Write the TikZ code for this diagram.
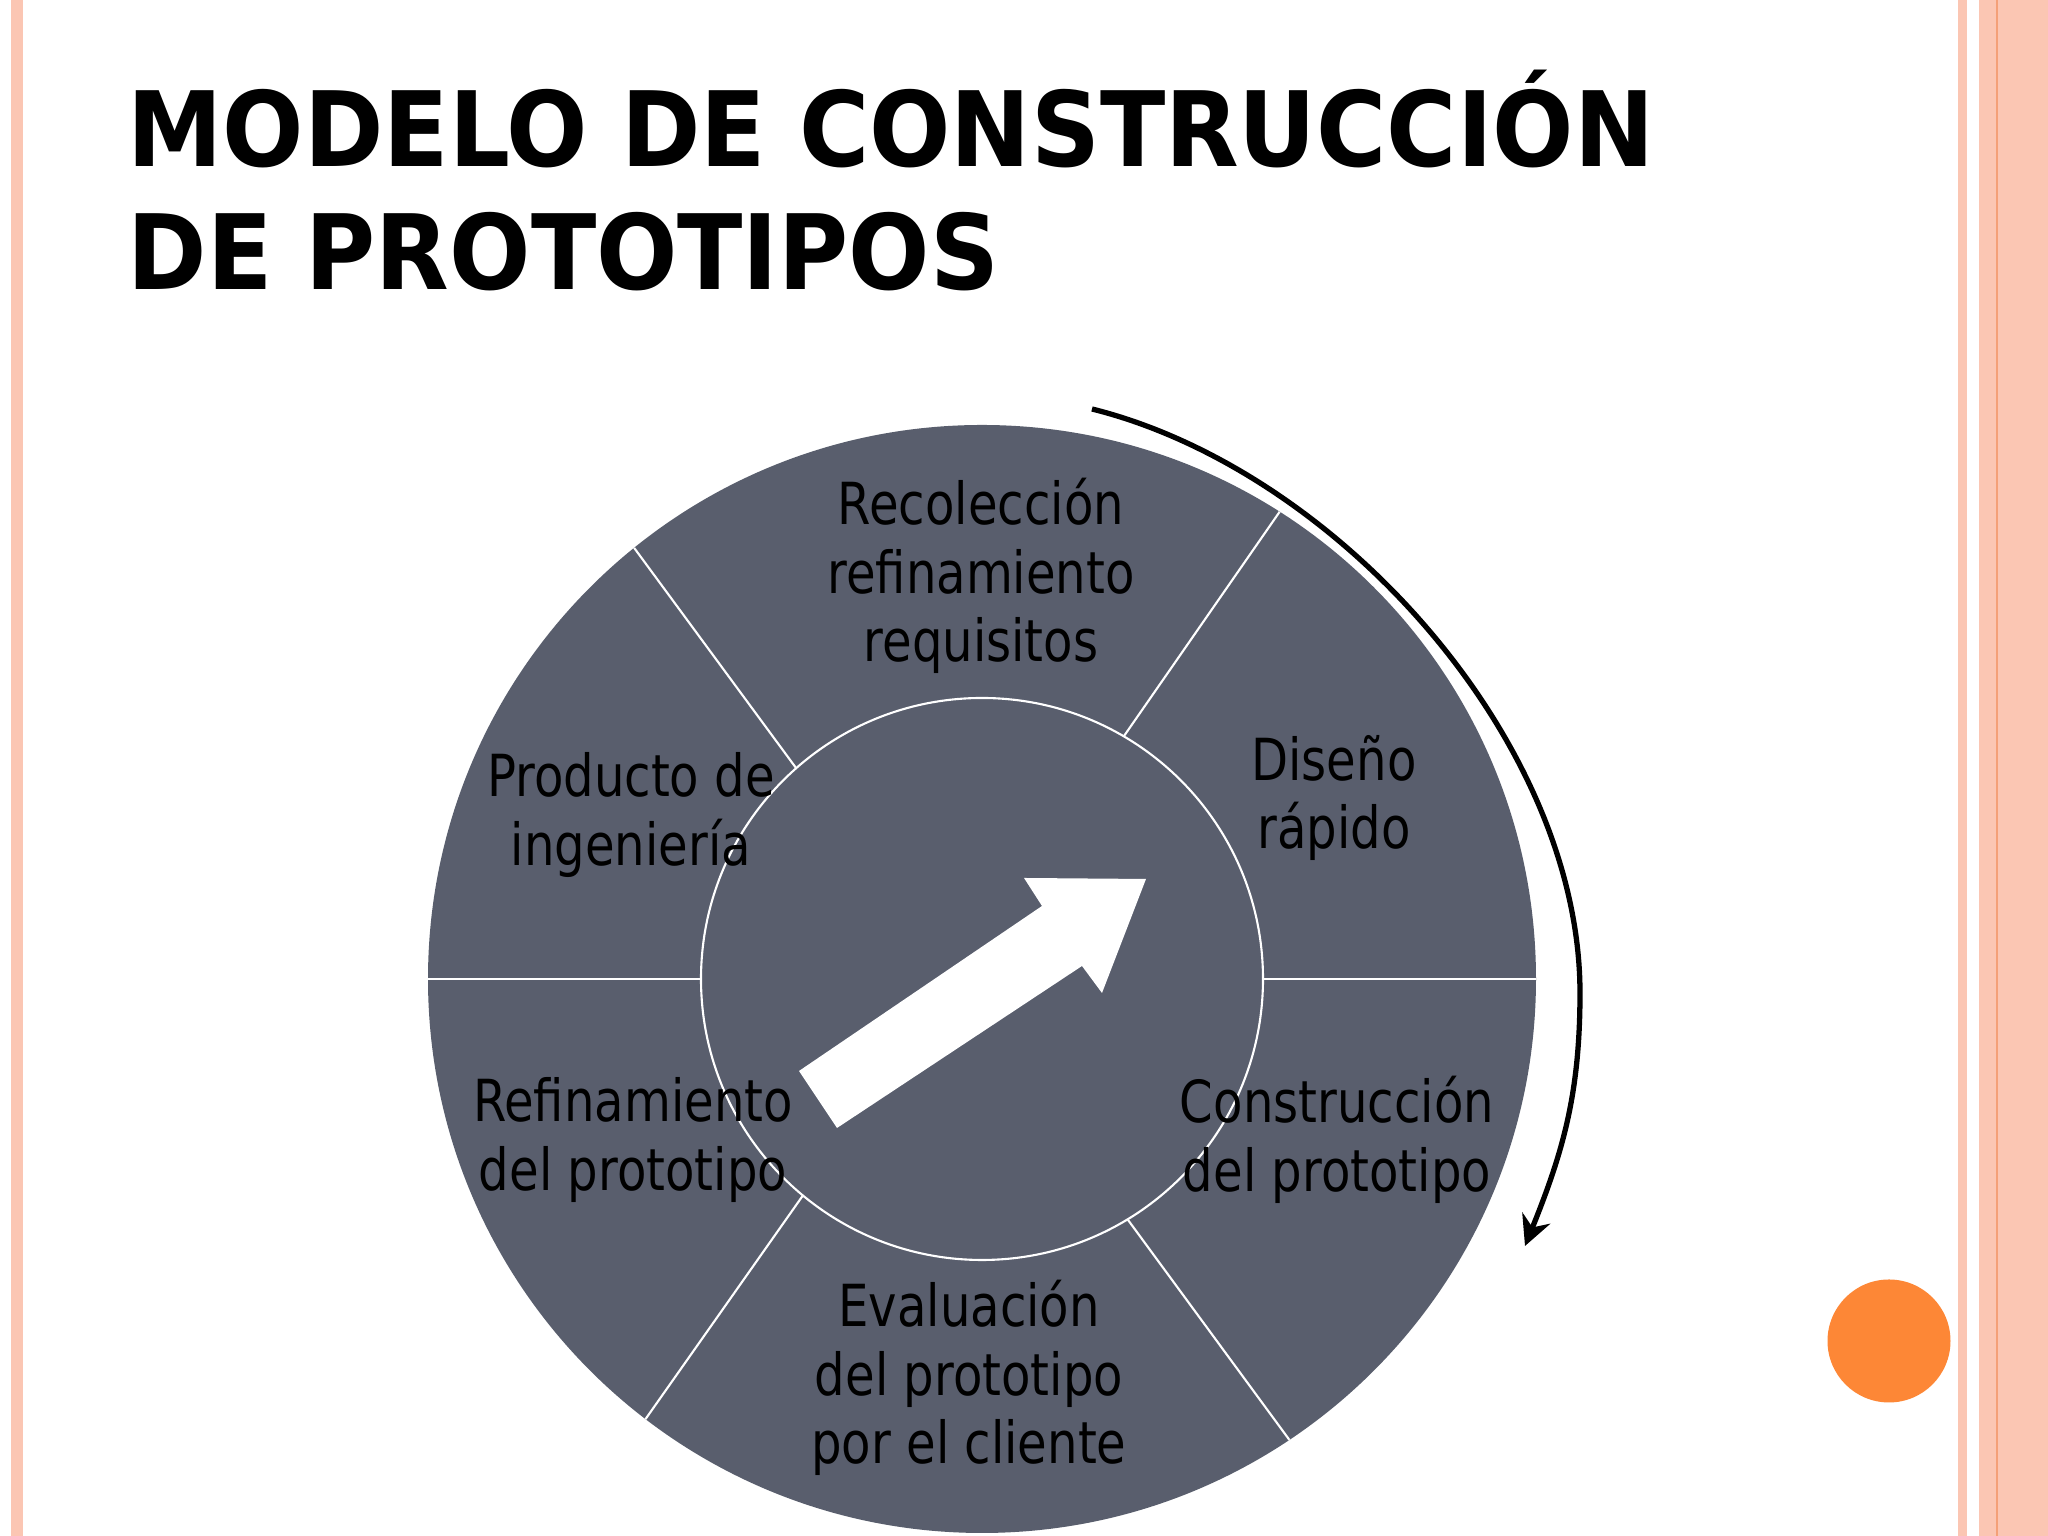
\documentclass[tikz,border=0pt]{standalone}
\usepackage{fontspec}
\usetikzlibrary{arrows.meta}
\newfontfamily\lblfont[FakeStretch=0.83]{DejaVu Sans}
\newfontfamily\ttlfont[FakeStretch=0.92]{DejaVu Sans}
\definecolor{disc}{RGB}{89,94,109}
\definecolor{salmon}{RGB}{251,198,179}
\definecolor{salmonedge}{RGB}{244,160,120}
\definecolor{dotorange}{RGB}{253,135,54}
\begin{document}
\begin{tikzpicture}[
  lbl/.style={font=\lblfont\fontsize{16.5}{19.5}\selectfont,align=center,inner sep=0pt},
  ttl/.style={font=\ttlfont\bfseries\fontsize{29.6}{35}\selectfont,anchor=base west,inner sep=0pt},
  split/.style={draw=white,line width=0.6pt},
  turnarrow/.style={-{Stealth[length=3mm,width=3mm,inset=1mm]},line width=1.5pt}]
\useasboundingbox (0,0) rectangle (20.48,15.36);
\fill[white] (0,0) rectangle (20.48,15.36);
\fill[salmon] (0.11,0) rectangle (0.23,15.36);
\fill[salmon] (19.58,0) rectangle (19.67,15.36);
\fill[salmon] (19.79,0) rectangle (20.48,15.36);
\fill[salmonedge] (19.96,0) rectangle (19.98,15.36);

\node(title1) at (1.27,13.69)[ttl] {MODELO DE CONSTRUCCIÓN};
\node(title2) at (1.27,12.46)[ttl] {DE PROTOTIPOS};

\coordinate(c) at (9.82,5.57);
\fill[disc] (c) circle (5.54);
\draw[split] (c) circle (2.81);
\foreach \a/\b in {59.7/57.5,0/0,-58.8/-56.3,-129.6/-127.4,180/180,131.4/128.9}
  \draw[split] ([shift={(\a:2.81)}]c) -- ([shift={(\b:5.54)}]c);
\fill[white] (7.99,4.65) -- (8.37,4.08) -- (10.82,5.70) -- (11.02,5.43)
  -- (11.46,6.57) -- (10.24,6.58) -- (10.42,6.30) -- cycle;

\node(rec) at (9.81,9.60)[lbl] {Recolección\\refinamiento\\requisitos};
\node(dis) at (13.34,7.38)[lbl] {Diseño\\rápido};
\node(con) at (13.37,3.96)[lbl] {Construcción\\del prototipo};
\node(eva) at (9.69,1.58)[lbl] {Evaluación\\del prototipo\\por el cliente};
\node(ref) at (6.33,3.96)[lbl] {Refinamiento\\del prototipo};
\node(pro) at (6.31,7.21)[lbl] {Producto de\\ingeniería};

\coordinate(cycS) at (10.92,11.27);
\coordinate(cycM) at (15.80,5.43);
\coordinate(cycE) at (15.25,2.90);
\draw[turnarrow] (cycS) to[out=-14,in=90,looseness=0.85] (cycM) to[out=-90,in=68] (cycE);

\fill[dotorange] (18.89,1.95) circle (0.615);
\end{tikzpicture}
\end{document}
